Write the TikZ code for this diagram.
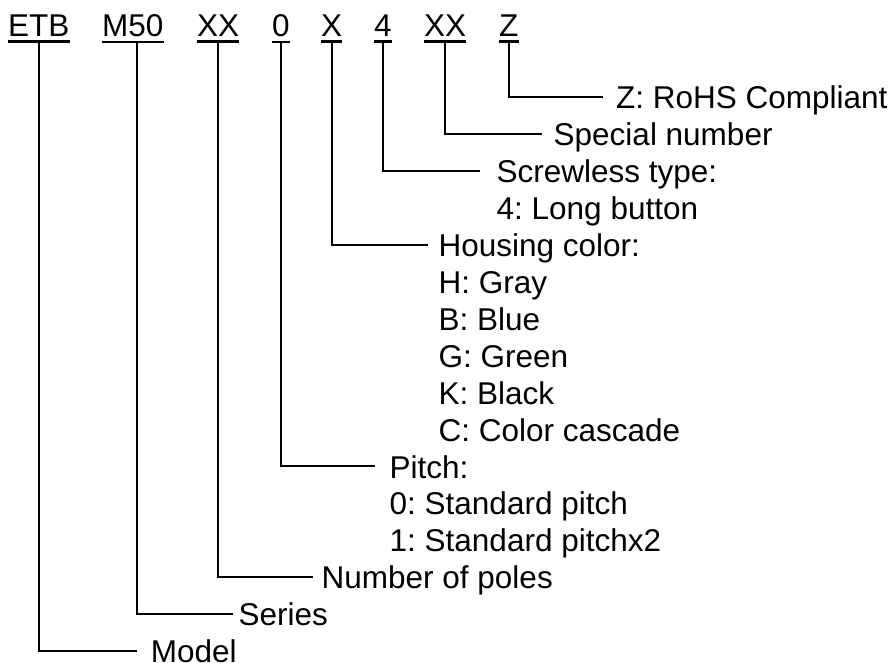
\documentclass[tikz,border=0pt]{standalone}
\usepackage{fontspec}
\setmainfont{Liberation Sans}
\usepackage{tikz}
\usetikzlibrary{calc}
\def\R{36.93}

\tikzset{
	code/.style={inner sep=0pt,anchor=base west},
	desc/.style={inner sep=0pt,anchor=north west,align=left},
	uline/.style={line width=2.7pt},
	leg/.style={line width=2pt}
}

\begin{document}
\frenchspacing
\begin{tikzpicture}[x=1pt,y=1pt,font=\fontsize{31.5}{36.93}\selectfont\frenchspacing]
	\useasboundingbox (0,0) rectangle (894,-662);

	% PART NUMBER
	\node[code] (ETB) at (8,-36) {ETB};
	\node[code] (M50) at (102,-36) {M50};
	\node[code] (XX1) at (197,-36) {XX};
	\node[code] (P) at (272,-36) {0};
	\node[code] (H) at (321,-36) {X};
	\node[code] (S) at (374,-36) {4};
	\node[code] (XX2) at (424,-36) {XX};
	\node[code] (Z) at (499,-36) {Z};
	\foreach \n in {ETB,M50,XX1,P,H,S,XX2,Z}
	\draw[uline] ([yshift=-5.5pt]\n.south west) -- ([yshift=-5.5pt]\n.south east);

	% ENDS OF THE LEGS
	\coordinate (z) at (603,-97);
	\coordinate (xx2) at (542,{-97-\R});
	\coordinate (s) at (480,{-97-2*\R});
	\coordinate (h) at (428,{-97-4*\R});
	\coordinate (p) at (375,{-97-10*\R});
	\coordinate (xx1) at (313,{-97-13*\R});
	\coordinate (m50) at (233,{-97-14*\R});
	\coordinate (etb) at (137,{-97-15*\R});

	% LEGS
	\draw[leg] ([yshift=-5.5pt]Z.south) |- (z);
	\draw[leg] ([yshift=-5.5pt]XX2.south) |- (xx2);
	\draw[leg] ([yshift=-5.5pt]S.south) |- (s);
	\draw[leg] ([yshift=-5.5pt]H.south) |- (h);
	\draw[leg] ([yshift=-5.5pt]P.south) |- (p);
	\draw[leg] ([yshift=-5.5pt]XX1.south) |- (xx1);
	\draw[leg] ([xshift=4pt,yshift=-5.5pt]M50.south) |- (m50);
	\draw[leg] ([yshift=-5.5pt]ETB.south) |- (etb);

	% DESCRIPTIONS
	\node[desc] (rohs) at ([xshift=13pt,yshift=11.3pt]z) {Z: RoHS Compliant};
	\node[desc] (special) at ([xshift=11.5pt,yshift=11.3pt]xx2) {Special number};
	\node[desc] (screwless) at ([xshift=16.5pt,yshift=11.3pt]s) {Screwless type:\\4: Long button};
	\node[desc] (housing) at ([xshift=10.5pt,yshift=11.3pt]h) {Housing color:\\H: Gray\\B: Blue\\G: Green\\K: Black\\C: Color cascade};
	\node[desc] (pitch) at ([xshift=14.5pt,yshift=11.3pt]p) {Pitch:\\0: Standard pitch\\1: Standard pitchx2};
	\node[desc] (poles) at ([xshift=8.5pt,yshift=11.3pt]xx1) {Number of poles};
	\node[desc] (series) at ([xshift=5.5pt,yshift=11.3pt]m50) {Series};
	\node[desc] (model) at ([xshift=13.7pt,yshift=11.3pt]etb) {Model};
\end{tikzpicture}
\end{document}
